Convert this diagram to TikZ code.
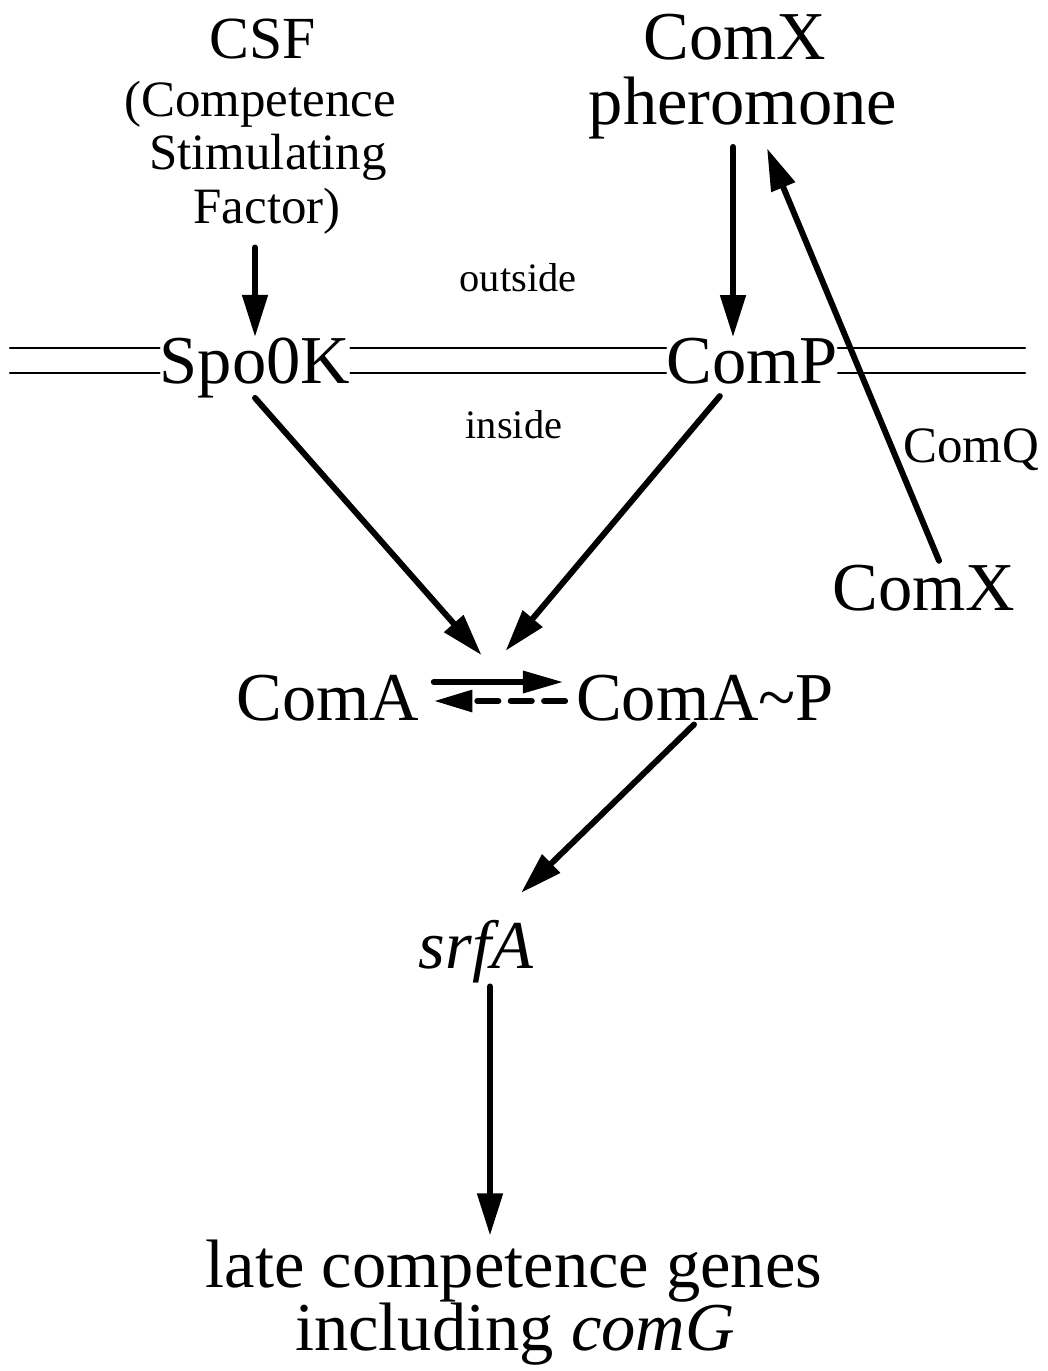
\documentclass[tikz,border=0pt]{standalone}
\usepackage{fontspec}
\setmainfont{Liberation Serif}
\usepackage{tikz}
\usetikzlibrary{arrows.meta,positioning,calc}
\tikzstyle{arrow}=[draw, line width=3.4pt, -{Triangle[length=24pt,width=14pt]}]
\tikzstyle{eqarrow}=[draw, line width=3.4pt, -{Triangle[length=23pt,width=12pt]}]
\tikzstyle{membrane}=[draw, line width=1.4pt]
\tikzstyle{txt}=[inner sep=2pt, anchor=base]
\newcommand{\bigtxt}{\fontsize{39}{44}\selectfont}
\newcommand{\midtxt}{\fontsize{34}{38}\selectfont}
\newcommand{\smalltxt}{\fontsize{29}{34}\selectfont}
\newcommand{\tinytxt}{\fontsize{23}{27}\selectfont}

\begin{document}
\begin{tikzpicture}[x=0.02cm, y=-0.02cm, line cap=round]
    \useasboundingbox (0,0) rectangle (1047,1371);

    % Signals outside the cell
    \node[txt, font=\midtxt] (csf) at (263,59) {CSF};
    \node[txt, font=\smalltxt] (csfa) at (260,117) {(Competence};
    \node[txt, font=\smalltxt] (csfb) at (268,170) {Stimulating};
    \node[txt, font=\smalltxt] (csfc) at (267,224) {Factor)};
    \node[txt, font=\bigtxt] (comx) at (735,60) {ComX};
    \node[txt, font=\bigtxt] (pher) at (743,125) {pheromone};

    % Membrane with the two receptors
    \node[txt, font=\bigtxt, inner sep=0pt] (spo) at (255,383) {Spo0K};
    \node[txt, font=\bigtxt, inner sep=0pt] (comp) at (752,383) {ComP};
    \coordinate (memL) at (10,383);
    \coordinate (memR) at (1025,383);
    \foreach \off in {0.7cm,0.2cm} {
        \draw[membrane] ([yshift=\off]memL) -- ([yshift=\off]spo.base west);
        \draw[membrane] ([yshift=\off]spo.base east) -- ([yshift=\off]comp.base west);
        \draw[membrane] ([yshift=\off]comp.base east) -- ([yshift=\off]memR);
    }
    \node[txt, font=\tinytxt] (out) at (518,292) {outside};
    \node[txt, font=\tinytxt] (in) at (514,438) {inside};

    % ComX made inside, processed by ComQ
    \node[txt, font=\bigtxt] (comx2) at (924,610) {ComX};
    \node[txt, font=\smalltxt] (comq) at (971,462) {ComQ};

    % Phosphorylation of ComA
    \node[txt, font=\bigtxt] (coma) at (328,720) {ComA};
    \node[txt, font=\bigtxt] (comap) at (705,720) {ComA\textasciitilde P};
    \coordinate (hub) at (492,667);

    % Targets
    \node[txt, font=\bigtxt\itshape] (srfa) at (476,968) {srfA};
    \node[txt, font=\bigtxt] (late) at (514,1287) {late competence genes};
    \node[txt, font=\bigtxt] (incl) at (515,1350) {including \textit{comG}};

    % Signalling arrows
    \draw[arrow, shorten <=5pt] (csfc.south -| spo.north) -- (spo.north);
    \draw[arrow, shorten <=2pt] ([xshift=-0.2cm]pher.south) -- ([xshift=-0.2cm]pher.south |- comp.north);
    \draw[arrow, shorten >=9pt] (spo.south) -- (hub);
    \draw[arrow, shorten <=9pt, shorten >=12pt] ([xshift=-0.44cm]comp.south) -- (hub);
    \draw[arrow, shorten >=3pt] ([xshift=0.3cm]comx2.north) -- ([xshift=0.44cm]pher.south);

    % ComA <-> ComA~P
    \draw[eqarrow, shorten <=6pt, shorten >=5pt] ([yshift=0.76cm]coma.base east) -- ([yshift=0.76cm]comap.base west);
    \draw[eqarrow, dash pattern=on 12pt off 7pt, -{Triangle[length=22pt,width=12pt]}, shorten <=4pt, shorten >=6pt]
        ([yshift=0.38cm]comap.base west) -- ([yshift=0.38cm]coma.base east);

    % Down to the late genes
    \draw[arrow] ([xshift=-0.22cm]comap.south) -- ([shift={(45,-23)}]srfa.north);
    \draw[arrow] ([xshift=0.28cm]srfa.south) -- ([xshift=0.28cm]srfa.south |- late.north);

\end{tikzpicture}
\end{document}
